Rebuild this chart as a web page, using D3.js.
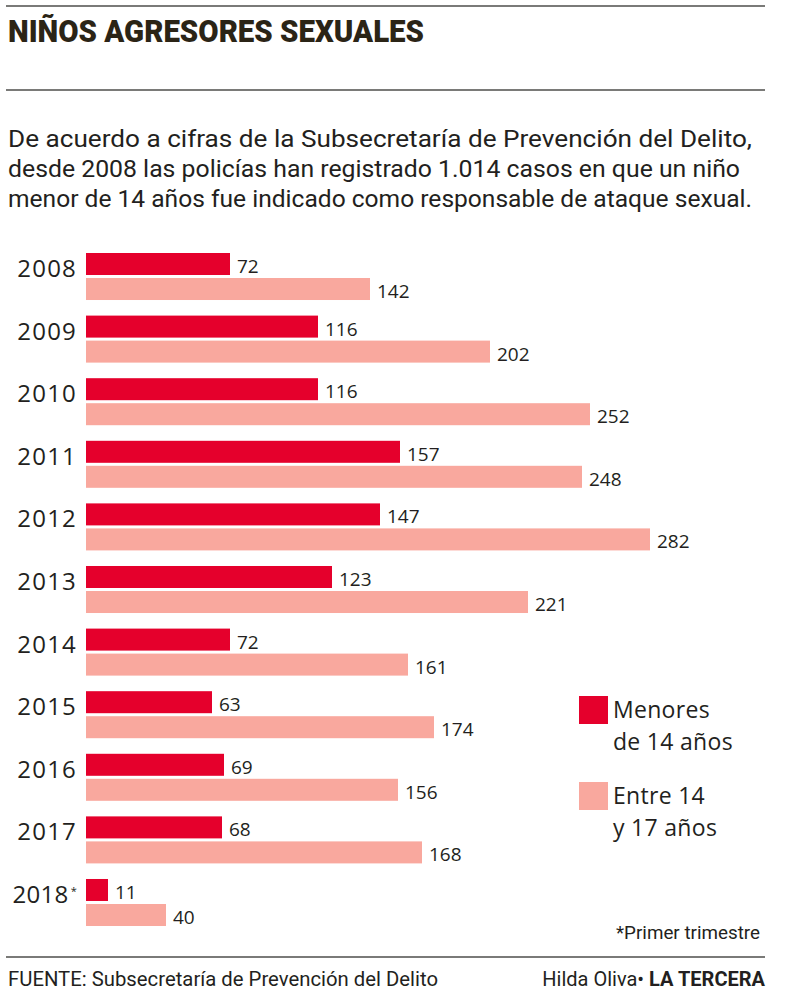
<!DOCTYPE html>
<html><head><meta charset="utf-8">
<script src="https://cdn.jsdelivr.net/npm/d3@7"></script>
<style>body{margin:0;background:#fff}svg{display:block}</style>
</head><body>
<svg id="c" width="800" height="996"></svg>
<script>
const years = ["2008","2009","2010","2011","2012","2013","2014","2015","2016","2017","2018"];
const menores = [72,116,116,157,147,123,72,63,69,68,11];
const entre = [142,202,252,248,282,221,161,174,156,168,40];
const seriesKeys = ["menores","entre"];
const seriesLabels = [["Menores","de 14 años"],["Entre 14","y 17 años"]];
const colors = ["#e5002c","#f9a89e"];
const title = "NIÑOS AGRESORES SEXUALES";
const subtitle = ["De acuerdo a cifras de la Subsecretaría de Prevención del Delito,",
  "desde 2008 las policías han registrado 1.014 casos en que un niño",
  "menor de 14 años fue indicado como responsable de ataque sexual."];
const note = "*Primer trimestre";
const source = "FUENTE: Subsecretaría de Prevención del Delito";

const svg = d3.select("#c");
const ink = "#231f20";
const cond = "Roboto, 'Noto Sans', sans-serif";
const body = "'Open Sans', 'Noto Sans', sans-serif";

// rules
[6, 90, 957].forEach(y => svg.append("line").attr("x1",6).attr("x2",765).attr("y1",y).attr("y2",y)
  .attr("stroke","#7a7a78").attr("stroke-width",2));

svg.append("text").attr("x",8).attr("y",42).text(title)
  .attr("font-family",cond).attr("font-weight",900).attr("font-size",31)
  .attr("fill","#2b2416").attr("textLength",416).attr("lengthAdjust","spacingAndGlyphs");

const subLens = [744, 732, 744];
subtitle.forEach((s,i) => svg.append("text").attr("x",8).attr("y",147 + i*30).text(s)
  .attr("font-family",cond).attr("font-size",23).attr("fill",ink)
  .attr("textLength",subLens[i]).attr("lengthAdjust","spacingAndGlyphs"));

const x = d3.scaleLinear().domain([0,282]).range([86,650]);
const y = d3.scaleBand().domain(years).range([253,926]).paddingInner(0.249).paddingOuter(0);
const ys = d3.scaleBand().domain(seriesKeys).range([0,y.bandwidth()]).paddingInner(0.12);

const data = years.map((yr,i) => ({year:yr, values:[{k:"menores",v:menores[i]},{k:"entre",v:entre[i]}]}));

const g = svg.append("g").selectAll("g").data(data).join("g")
  .attr("transform", d => `translate(0,${y(d.year)})`);

g.selectAll("rect").data(d => d.values).join("rect")
  .attr("x", x(0)).attr("y", d => ys(d.k))
  .attr("width", d => x(d.v) - x(0)).attr("height", ys.bandwidth())
  .attr("fill", (d,i) => colors[i]);

g.selectAll("text.val").data(d => d.values).join("text").attr("class","val")
  .attr("x", d => x(d.v) + 7).attr("y", d => ys(d.k) + ys.bandwidth() - 2)
  .text(d => d.v).attr("font-family",body).attr("font-size",19).attr("fill",ink);

const yl = g.append("text").attr("x", d => d.year === "2018" ? 77 : 77)
  .attr("y", ys("menores") + ys.bandwidth() + 2)
  .attr("text-anchor","end").attr("font-family",body).attr("font-size",24)
  .attr("letter-spacing", d => d.year === "2018" ? 0.3 : 1.2).attr("fill",ink);
yl.append("tspan").text(d => d.year);
yl.filter(d => d.year === "2018").append("tspan").text("*")
  .attr("font-size",11).attr("dy",-8).attr("dx",2);

// legend
const lg = svg.append("g").selectAll("g").data(seriesKeys).join("g")
  .attr("transform",(d,i) => `translate(579,${696 + i*86})`);
lg.append("rect").attr("width",29).attr("height",28).attr("fill",(d,i)=>colors[i]);
lg.each(function(d,i){
  seriesLabels[i].forEach((t,j) => d3.select(this).append("text")
    .attr("x",34).attr("y",22 + j*32).text(t)
    .attr("font-family",body).attr("font-size",23).attr("letter-spacing",0.3).attr("fill",ink));
});

svg.append("text").attr("x",760).attr("y",939).attr("text-anchor","end").text(note)
  .attr("font-family",cond).attr("font-size",19).attr("fill",ink)
  .attr("textLength",144).attr("lengthAdjust","spacingAndGlyphs");

svg.append("text").attr("x",8).attr("y",986).text(source)
  .attr("font-family",cond).attr("font-size",20).attr("fill",ink)
  .attr("textLength",430).attr("lengthAdjust","spacingAndGlyphs");

const cr = svg.append("text").attr("x",765).attr("y",986).attr("text-anchor","end")
  .attr("font-family",cond).attr("font-size",20).attr("fill",ink);
cr.append("tspan").text("Hilda Oliva• ");
cr.append("tspan").text("LA TERCERA").attr("font-weight",700);
</script>
</body></html>
